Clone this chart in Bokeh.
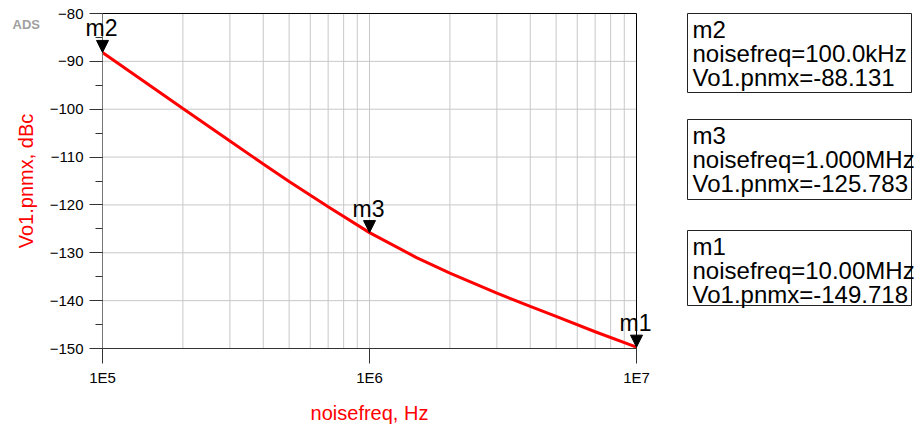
from bokeh.plotting import figure
from bokeh.models import (ColumnDataSource, Range1d, FixedTicker, SingleIntervalTicker,
                          Label, LabelSet, Arrow, NormalHead, LinearAxis, LogAxis)
from bokeh.layouts import row
from bokeh.embed import file_html
from bokeh.resources import INLINE
from bokeh.core.properties import value

# ---- data ----
noisefreq = [1e5, 1.5e5, 2e5, 3e5, 4e5, 5e5, 7e5, 1e6, 1.5e6, 2e6, 3e6, 4e6, 5e6, 7e6, 1e7]
pnmx = [-88.131, -95.0, -99.85, -106.65, -111.45, -115.1, -120.4, -125.783,
        -131.0, -134.25, -138.45, -141.2, -143.3, -146.5, -149.718]

marker_names = ["m2", "m3", "m1"]
marker_freq = [1e5, 1e6, 1e7]
marker_val = [-88.131, -125.783, -149.718]
marker_freq_text = ["100.0kHz", "1.000MHz", "10.00MHz"]

x_ticks = [1e5, 1e6, 1e7]
x_tick_labels = ["1E5", "1E6", "1E7"]
x_minor = [m * 10 ** e for e in (5, 6) for m in range(2, 10)]
y_ticks = [-150, -140, -130, -120, -110, -100, -90, -80]

FONT = "Liberation Sans"
RED = "#ff0000"
GRID = "#c8c8c8"

# layout: plot area spans 102..636 px horizontally and 13..348 px vertically
W, H = 686, 426
L, R, T, B = 102, 636, 13, 348
X0, X1 = x_ticks[0], x_ticks[-1]
Y0, Y1 = y_ticks[0], y_ticks[-1]
px_dec = (R - L) / 2.0
px_db = (B - T) / (Y1 - Y0)
x_range = Range1d(10 ** (5 - L / px_dec), 10 ** (7 + (W - R) / px_dec))
y_range = Range1d(Y0 - (H - B) / px_db, Y1 + T / px_db)

p = figure(width=W, height=H, x_axis_type="log", x_axis_location=None, y_axis_location=None,
           x_range=x_range, y_range=y_range, output_backend="svg", toolbar_location=None,
           min_border=0)
p.outline_line_color = None
p.grid.visible = False

# grid lines
gx = x_ticks + x_minor
p.segment(x0=gx, y0=[Y0] * len(gx), x1=gx, y1=[Y1] * len(gx), line_color=GRID, line_width=1)
p.segment(x0=[X0] * len(y_ticks), y0=y_ticks, x1=[X1] * len(y_ticks), y1=y_ticks,
          line_color=GRID, line_width=1)
# plot border
p.quad(left=[X0], right=[X1], bottom=[Y0], top=[Y1], fill_color=None,
       line_color="black", line_width=1)

xax = LogAxis(fixed_location=Y0, bounds=(X0, X1),
              ticker=FixedTicker(ticks=x_ticks, minor_ticks=[]))
xax.major_label_overrides = dict(zip(x_ticks, x_tick_labels))
yax = LinearAxis(fixed_location=X0, bounds=(Y0, Y1),
                 ticker=SingleIntervalTicker(interval=10, num_minor_ticks=2))
for ax in (xax, yax):
    ax.major_label_text_font = FONT
    ax.major_label_text_font_size = "15px"
    ax.major_label_text_color = "black"
    ax.axis_label_text_font = FONT
    ax.axis_label_text_font_size = "20px"
    ax.axis_label_text_font_style = "normal"
    ax.axis_label_text_color = RED
    ax.major_tick_in = 0
    ax.minor_tick_in = 0
    ax.major_tick_line_color = "#333333"
    ax.minor_tick_line_color = "#333333"

xax.axis_label = "noisefreq, Hz"
xax.major_tick_out = 15
xax.minor_tick_out = 0
xax.minor_tick_line_color = None
xax.major_label_standoff = 5
xax.axis_label_standoff = 13
xax.axis_line_color = "#333333"

yax.axis_label = "Vo1.pnmx, dBc"
yax.major_tick_out = 13
yax.minor_tick_out = 7
yax.major_label_standoff = 6
yax.axis_label_standoff = 10
yax.axis_line_color = "#777777"

p.add_layout(xax, "below")
p.add_layout(yax, "left")

p.line(noisefreq, pnmx, line_color=RED, line_width=3)

arrow_src = ColumnDataSource(dict(x0=marker_freq, y0=[v + 1 for v in marker_val],
                                  x1=marker_freq, y1=marker_val))
p.add_layout(Arrow(source=arrow_src, x_start="x0", y_start="y0", x_end="x1", y_end="y1",
                   line_color=None, line_alpha=0,
                   end=NormalHead(size=12, fill_color="black", line_color="black", line_width=1)))

lab_src = ColumnDataSource(dict(x=marker_freq, y=marker_val, t=marker_names))
p.add_layout(LabelSet(source=lab_src, x="x", y="y", text="t", y_offset=16, x_offset=-1,
                      text_align="center", text_baseline="alphabetic",
                      text_font=value(FONT), text_font_size="23px", text_color="black"))

p.add_layout(Label(x=X0, y=Y1, x_offset=-90, y_offset=-3, text="ADS",
                   text_font=FONT, text_font_size="13px", text_font_style="bold",
                   text_color="#a0a0a0", text_baseline="top", text_align="left"))

# ---- marker readout boxes ----
QW = 918 - W
q = figure(width=QW, height=H, x_range=Range1d(0, QW), y_range=Range1d(H, 0),
           output_backend="svg", toolbar_location=None, min_border=0)
q.axis.visible = False
q.grid.visible = False
q.outline_line_color = None

box_top = [13, 119, 230]
box_bottom = [92, 199, 305]
q.quad(left=[1] * 3, right=[225] * 3, top=box_top, bottom=box_bottom,
       fill_color=None, line_color="#222222", line_width=1)
line_txt, line_y = [], []
for n, f, v, t in zip(marker_names, marker_freq_text, marker_val, box_top):
    for k, s in enumerate([n, f"noisefreq={f}", f"Vo1.pnmx={v:.3f}"]):
        line_txt.append(s)
        line_y.append(t + 16 + 24 * k)
q.text(x=[6] * len(line_txt), y=line_y, text=line_txt,
       text_font=value(FONT), text_font_size="24px", text_color="black",
       text_baseline="alphabetic", text_align="left")

layout = row(p, q)
open("out.html", "w").write(file_html(layout, INLINE))
